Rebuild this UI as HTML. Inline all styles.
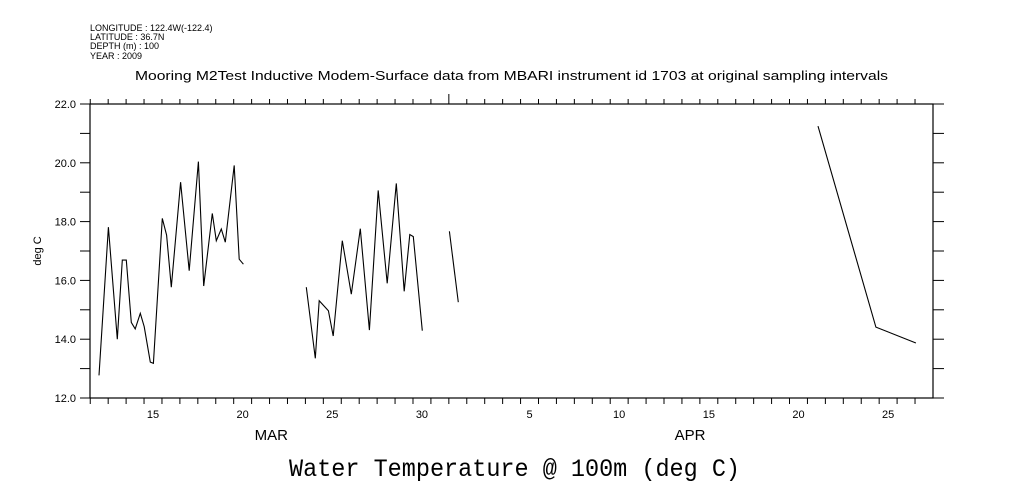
<!DOCTYPE html>
<html><head><meta charset="utf-8"><style>
html,body{margin:0;padding:0;background:#fff;}
svg{display:block;font-family:"Liberation Sans",sans-serif;}
</style></head><body>
<svg id="chart" width="1009" height="504" viewBox="0 0 1009 504">
<g font-size="9" fill="#000">
<text x="90" y="31">LONGITUDE : 122.4W(-122.4)</text>
<text x="90" y="40">LATITUDE : 36.7N</text>
<text x="90" y="49">DEPTH (m) : 100</text>
<text x="90" y="59">YEAR : 2009</text>
</g>
<text x="135" y="80" font-size="12.5" textLength="753" lengthAdjust="spacingAndGlyphs">Mooring M2Test Inductive Modem-Surface data from MBARI instrument id 1703 at original sampling intervals</text>
<text x="289" y="476" font-family="'Liberation Mono',monospace" font-size="25" textLength="451" lengthAdjust="spacingAndGlyphs">Water Temperature @ 100m (deg C)</text>
<text transform="translate(41,251) rotate(-90)" text-anchor="middle" font-size="11">deg C</text>
<rect x="90" y="104" width="843" height="294" fill="none" stroke="#000" stroke-width="1.2"/>
<g id="axes"></g>
<g id="series"></g>
</svg>
<script>
// Data: x in days from Mar 1 (Mar day number; Apr 1 = 32), y in deg C
const seg1Days = [11.99,12.51,13.01,13.29,13.51,13.79,14.01,14.29,14.51,14.85,15.02,15.52,15.76,16.02,16.54,17.02,17.53,17.83,18.31,18.53,18.81,19.03,19.53,19.81,20.04];
const seg1Temps = [12.77,17.81,14.0,16.69,16.69,14.57,14.35,14.88,14.43,13.22,13.18,18.11,17.54,15.77,19.34,16.33,20.04,15.81,18.28,17.35,17.75,17.30,19.91,16.72,16.55];
const seg2Days = [23.55,24.05,24.27,24.78,25.05,25.56,26.06,26.56,27.07,27.56,28.06,28.57,29.01,29.32,29.52,30.02];
const seg2Temps = [15.77,13.35,15.31,14.97,14.11,17.35,15.53,17.76,14.31,19.06,15.90,19.30,15.63,17.56,17.49,14.29];
const seg3Days = [31.53,32.03];
const seg3Temps = [17.67,15.26];
const seg4Days = [52.09,55.32,57.55];
const seg4Temps = [21.25,14.41,13.87];
const yTicks = [12,13,14,15,16,17,18,19,20,21,22];
const yTickLabels = ["12.0","","14.0","","16.0","","18.0","","20.0","","22.0"];
const xLabelDays = [15,20,25,30,36,41,46,51,56];
const xLabels = ["15","20","25","30","5","10","15","20","25"];
const monthDays = [21.6,44.95];
const monthLabels = ["MAR","APR"];

const NS="http://www.w3.org/2000/svg";
const X0=90,X1=933,Y0=104,Y1=398;
const dayPx=17.93;
function xs(d){return 153+(d-15)*dayPx;}
function ys(v){return Y1-(v-12)/(22-12)*(Y1-Y0);}
function mk(tag,attrs,parent){const e=document.createElementNS(NS,tag);for(const k in attrs)e.setAttribute(k,attrs[k]);parent.appendChild(e);return e;}
const axes=document.getElementById('axes');
const series=document.getElementById('series');
yTicks.forEach((v,i)=>{
  const y=ys(v);
  const t=mk('line',{x1:80,x2:90,y1:y,y2:y,stroke:'#000'},axes);
  
  
  const r=mk('line',{x1:933,x2:944,y1:y,y2:y,stroke:'#000'},axes);
  
  
  if(yTickLabels[i]){
    const tx=mk('text',{x:76,y:y+4,'text-anchor':'end','font-size':11},axes);
    tx.textContent=yTickLabels[i];
    
    
  }
});
for(let d=11.5;d<=57.6;d+=1){
  const x=xs(d);
  if(x<X0-1||x>X1+1)continue;
  const b=mk('line',{x1:x,x2:x,y1:398,y2:404,stroke:'#000'},axes);
  
  
  const isMonth=Math.abs(d-31.5)<0.01;
  const t=mk('line',{x1:x,x2:x,y1:isMonth?94:99,y2:104,stroke:'#000'},axes);
  
  
}
xLabelDays.forEach((d,i)=>{
  const tx=mk('text',{x:xs(d),y:418,'text-anchor':'middle','font-size':11},axes);
  tx.textContent=xLabels[i];
  
  
});
monthDays.forEach((d,i)=>{
  const tx=mk('text',{x:xs(d),y:440,'text-anchor':'middle','font-size':15},axes);
  tx.textContent=monthLabels[i];
  
  
});
[[seg1Days,seg1Temps],[seg2Days,seg2Temps],[seg3Days,seg3Temps],[seg4Days,seg4Temps]].forEach(([ds,vs])=>{
  const pts=ds.map((d,i)=>xs(d).toFixed(1)+','+ys(vs[i]).toFixed(1)).join(' ');
  const pl=mk('polyline',{points:pts,fill:'none',stroke:'#000','stroke-width':1.1},series);
  
  
});
</script>
</body></html>
